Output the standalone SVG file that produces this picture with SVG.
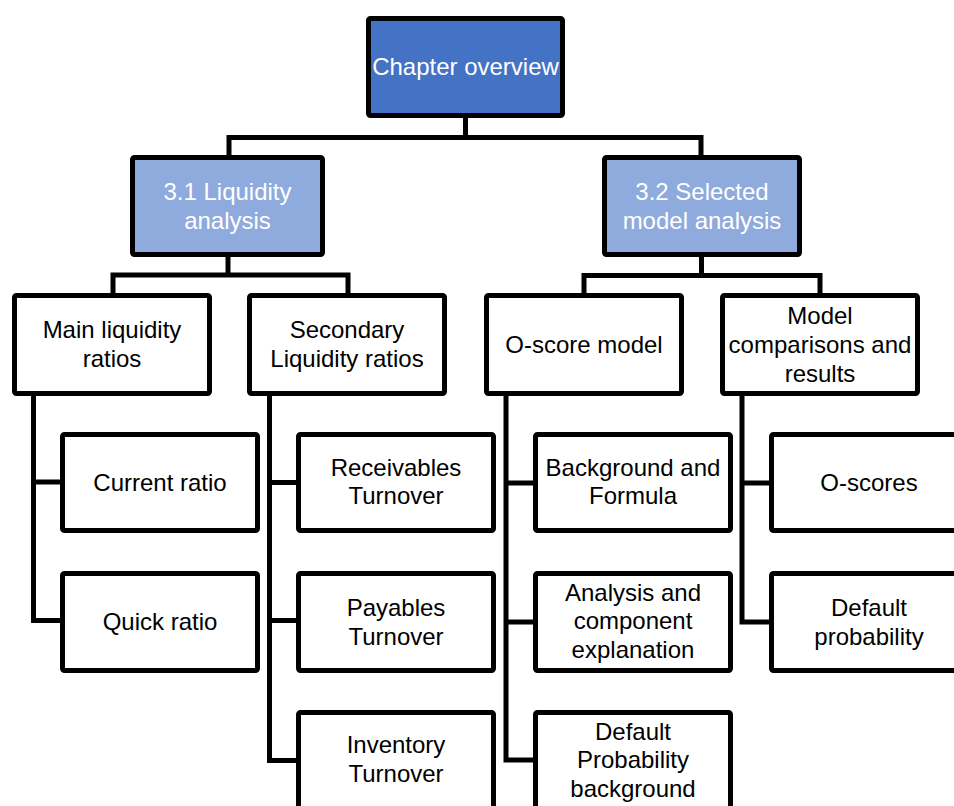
<svg xmlns="http://www.w3.org/2000/svg" width="954" height="806" viewBox="0 0 954 806">
  <style>
    .box { stroke: #000; stroke-width: 5; stroke-linejoin: round; }
    .root { fill: #4472C4; }
    .sect { fill: #8FAADC; }
    .leaf { fill: #FFFFFF; }
    .conn { fill: none; stroke: #000; stroke-width: 5; stroke-linejoin: miter; stroke-linecap: butt; }
    text { font-family: "Liberation Sans", Arial, sans-serif; font-size: 24px; text-anchor: middle; fill: #000; }
    .light { fill: #FFFFFF; }
  </style>
  <rect width="954" height="806" fill="#FFFFFF"/>

  <!-- connectors -->
  <g id="connectors">
    <path class="conn" d="M465.5 118 V137.5"/>
    <path class="conn" d="M229 155 V137.5 H701 V155"/>
    <path class="conn" d="M228 257 V275"/>
    <path class="conn" d="M113 293 V275 H348 V293"/>
    <path class="conn" d="M701.5 257 V275.5"/>
    <path class="conn" d="M584 293 V275.5 H820 V293"/>
    <path class="conn" d="M33.5 396 V620.5 H61 M33.5 482 H61"/>
    <path class="conn" d="M269.5 396 V760.5 H297 M269.5 482.5 H297 M269.5 620.5 H297"/>
    <path class="conn" d="M506 396 V760 H534 M506 483 H534 M506 622 H534"/>
    <path class="conn" d="M742 396 V622 H770 M742 483 H770"/>
  </g>

  <!-- root -->
  <g id="chapter-overview">
    <rect class="box root" x="368.5" y="18.5" width="194" height="97" rx="2"/>
    <text class="light" x="465.5" y="75">Chapter overview</text>
  </g>

  <!-- sections -->
  <g id="liquidity-analysis">
    <rect class="box sect" x="132.5" y="157.5" width="190" height="97" rx="2"/>
    <text class="light" x="227.5" y="199.5">3.1 Liquidity</text>
    <text class="light" x="227.5" y="228.5">analysis</text>
  </g>
  <g id="selected-model-analysis">
    <rect class="box sect" x="604.5" y="157.5" width="195" height="97" rx="2"/>
    <text class="light" x="702" y="199.5">3.2 Selected</text>
    <text class="light" x="702" y="228.5">model analysis</text>
  </g>

  <!-- subsections -->
  <g id="main-liquidity-ratios">
    <rect class="box leaf" x="14.5" y="295.5" width="195" height="98" rx="2"/>
    <text x="112" y="338">Main liquidity</text>
    <text x="112" y="367">ratios</text>
  </g>
  <g id="secondary-liquidity-ratios">
    <rect class="box leaf" x="249.5" y="295.5" width="195" height="98" rx="2"/>
    <text x="347" y="338">Secondary</text>
    <text x="347" y="367">Liquidity ratios</text>
  </g>
  <g id="o-score-model">
    <rect class="box leaf" x="486.5" y="295.5" width="195" height="98" rx="2"/>
    <text x="584" y="352.5">O-score model</text>
  </g>
  <g id="model-comparisons">
    <rect class="box leaf" x="722.5" y="295.5" width="195" height="98" rx="2"/>
    <text x="820" y="323.5">Model</text>
    <text x="820" y="352.5">comparisons and</text>
    <text x="820" y="381.5">results</text>
  </g>

  <!-- topics: main liquidity ratios -->
  <g id="current-ratio">
    <rect class="box leaf" x="62.5" y="434.5" width="195" height="96" rx="2"/>
    <text x="160" y="490.5">Current ratio</text>
  </g>
  <g id="quick-ratio">
    <rect class="box leaf" x="62.5" y="573.5" width="195" height="97" rx="2"/>
    <text x="160" y="630">Quick ratio</text>
  </g>

  <!-- topics: secondary liquidity ratios -->
  <g id="receivables-turnover">
    <rect class="box leaf" x="298.5" y="434.5" width="195" height="96" rx="2"/>
    <text x="396" y="475.5">Receivables</text>
    <text x="396" y="504">Turnover</text>
  </g>
  <g id="payables-turnover">
    <rect class="box leaf" x="298.5" y="573.5" width="195" height="97" rx="2"/>
    <text x="396" y="615.5">Payables</text>
    <text x="396" y="644.5">Turnover</text>
  </g>
  <g id="inventory-turnover">
    <rect class="box leaf" x="298.5" y="712.5" width="195" height="112" rx="2"/>
    <text x="396" y="753">Inventory</text>
    <text x="396" y="782">Turnover</text>
  </g>

  <!-- topics: O-score model -->
  <g id="background-formula">
    <rect class="box leaf" x="535.5" y="434.5" width="195" height="96" rx="2"/>
    <text x="633" y="475.5">Background and</text>
    <text x="633" y="504">Formula</text>
  </g>
  <g id="analysis-components">
    <rect class="box leaf" x="535.5" y="573.5" width="195" height="97" rx="2"/>
    <text x="633" y="600.5">Analysis and</text>
    <text x="633" y="629">component</text>
    <text x="633" y="657.5">explanation</text>
  </g>
  <g id="default-probability-background">
    <rect class="box leaf" x="535.5" y="712.5" width="195" height="112" rx="2"/>
    <text x="633" y="739.5">Default</text>
    <text x="633" y="768">Probability</text>
    <text x="633" y="796.5">background</text>
  </g>

  <!-- topics: model comparisons -->
  <g id="o-scores">
    <rect class="box leaf" x="771.5" y="434.5" width="195" height="96" rx="2"/>
    <text x="869" y="490.5">O-scores</text>
  </g>
  <g id="default-probability">
    <rect class="box leaf" x="771.5" y="573.5" width="195" height="97" rx="2"/>
    <text x="869" y="615.5">Default</text>
    <text x="869" y="644.5">probability</text>
  </g>
</svg>
